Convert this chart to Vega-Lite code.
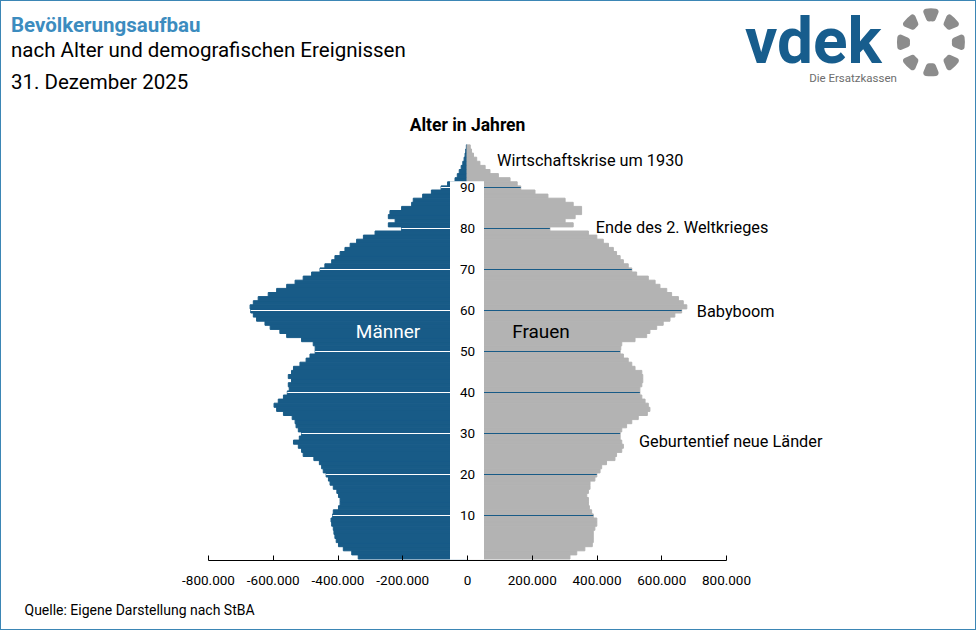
{
  "$schema": "https://vega.github.io/schema/vega-lite/v6.json",
  "width": 976,
  "height": 630,
  "autosize": {"type": "none"},
  "padding": 0,
  "background": "white",
  "title": {
    "text": "Bevölkerungsaufbau",
    "subtitle": ["nach Alter und demografischen Ereignissen", "31. Dezember 2025"],
    "anchor": "start",
    "frame": "group",
    "orient": "top",
    "offset": 0,
    "dx": 11,
    "dy": 93,
    "fontSize": 20.5,
    "fontWeight": "bold",
    "color": "#3c8cbf",
    "subtitleFontSize": 20.5,
    "subtitleColor": "#000000",
    "subtitleLineHeight": 32,
    "subtitlePadding": 4
  },
  "data": {
    "values": [
      {"age": 0, "m": -336000, "f": 318000},
      {"age": 1, "m": -356000, "f": 339000},
      {"age": 2, "m": -382000, "f": 364000},
      {"age": 3, "m": -397000, "f": 387000},
      {"age": 4, "m": -404000, "f": 390000},
      {"age": 5, "m": -408000, "f": 390000},
      {"age": 6, "m": -411000, "f": 390000},
      {"age": 7, "m": -413000, "f": 395000},
      {"age": 8, "m": -418000, "f": 401000},
      {"age": 9, "m": -420000, "f": 401000},
      {"age": 10, "m": -415000, "f": 390000},
      {"age": 11, "m": -413000, "f": 385000},
      {"age": 12, "m": -397000, "f": 378000},
      {"age": 13, "m": -392000, "f": 375000},
      {"age": 14, "m": -392000, "f": 375000},
      {"age": 15, "m": -397000, "f": 370000},
      {"age": 16, "m": -402000, "f": 375000},
      {"age": 17, "m": -413000, "f": 380000},
      {"age": 18, "m": -423000, "f": 380000},
      {"age": 19, "m": -428000, "f": 395000},
      {"age": 20, "m": -435000, "f": 401000},
      {"age": 21, "m": -444000, "f": 411000},
      {"age": 22, "m": -449000, "f": 416000},
      {"age": 23, "m": -456000, "f": 431000},
      {"age": 24, "m": -473000, "f": 457000},
      {"age": 25, "m": -506000, "f": 462000},
      {"age": 26, "m": -511000, "f": 478000},
      {"age": 27, "m": -521000, "f": 483000},
      {"age": 28, "m": -536000, "f": 478000},
      {"age": 29, "m": -518000, "f": 473000},
      {"age": 30, "m": -511000, "f": 473000},
      {"age": 31, "m": -521000, "f": 478000},
      {"age": 32, "m": -528000, "f": 493000},
      {"age": 33, "m": -531000, "f": 509000},
      {"age": 34, "m": -540000, "f": 529000},
      {"age": 35, "m": -567000, "f": 557000},
      {"age": 36, "m": -588000, "f": 565000},
      {"age": 37, "m": -596000, "f": 560000},
      {"age": 38, "m": -583000, "f": 550000},
      {"age": 39, "m": -567000, "f": 540000},
      {"age": 40, "m": -555000, "f": 534000},
      {"age": 41, "m": -549000, "f": 534000},
      {"age": 42, "m": -552000, "f": 540000},
      {"age": 43, "m": -542000, "f": 543000},
      {"age": 44, "m": -552000, "f": 543000},
      {"age": 45, "m": -542000, "f": 540000},
      {"age": 46, "m": -536000, "f": 519000},
      {"age": 47, "m": -516000, "f": 509000},
      {"age": 48, "m": -497000, "f": 498000},
      {"age": 49, "m": -485000, "f": 483000},
      {"age": 50, "m": -469000, "f": 473000},
      {"age": 51, "m": -469000, "f": 475000},
      {"age": 52, "m": -475000, "f": 478000},
      {"age": 53, "m": -511000, "f": 519000},
      {"age": 54, "m": -557000, "f": 555000},
      {"age": 55, "m": -578000, "f": 565000},
      {"age": 56, "m": -608000, "f": 586000},
      {"age": 57, "m": -624000, "f": 606000},
      {"age": 58, "m": -650000, "f": 627000},
      {"age": 59, "m": -660000, "f": 642000},
      {"age": 60, "m": -668000, "f": 663000},
      {"age": 61, "m": -670000, "f": 679000},
      {"age": 62, "m": -660000, "f": 668000},
      {"age": 63, "m": -645000, "f": 653000},
      {"age": 64, "m": -614000, "f": 632000},
      {"age": 65, "m": -588000, "f": 617000},
      {"age": 66, "m": -557000, "f": 596000},
      {"age": 67, "m": -531000, "f": 581000},
      {"age": 68, "m": -506000, "f": 560000},
      {"age": 69, "m": -480000, "f": 524000},
      {"age": 70, "m": -454000, "f": 509000},
      {"age": 71, "m": -439000, "f": 498000},
      {"age": 72, "m": -418000, "f": 483000},
      {"age": 73, "m": -408000, "f": 473000},
      {"age": 74, "m": -392000, "f": 462000},
      {"age": 75, "m": -377000, "f": 452000},
      {"age": 76, "m": -361000, "f": 437000},
      {"age": 77, "m": -341000, "f": 421000},
      {"age": 78, "m": -320000, "f": 401000},
      {"age": 79, "m": -284000, "f": 375000},
      {"age": 80, "m": -202000, "f": 256000},
      {"age": 81, "m": -243000, "f": 328000},
      {"age": 82, "m": -222000, "f": 303000},
      {"age": 83, "m": -243000, "f": 334000},
      {"age": 84, "m": -238000, "f": 354000},
      {"age": 85, "m": -202000, "f": 354000},
      {"age": 86, "m": -171000, "f": 328000},
      {"age": 87, "m": -166000, "f": 303000},
      {"age": 88, "m": -137000, "f": 250000},
      {"age": 89, "m": -110000, "f": 210000},
      {"age": 90, "m": -80000, "f": 166000},
      {"age": 91, "m": -60000, "f": 155000},
      {"age": 92, "m": -37000, "f": 133000},
      {"age": 93, "m": -30000, "f": 97000},
      {"age": 94, "m": -24000, "f": 71000},
      {"age": 95, "m": -18000, "f": 56000},
      {"age": 96, "m": -13000, "f": 40000},
      {"age": 97, "m": -9000, "f": 30000},
      {"age": 98, "m": -6000, "f": 20000},
      {"age": 99, "m": -4000, "f": 14000},
      {"age": 100, "m": -2000, "f": 10000}
    ]
  },
  "layer": [
    {
      "mark": {"type": "bar", "color": "#185b87", "stroke": "#185b87", "strokeWidth": 1, "opacity": 1, "binSpacing": 0},
      "encoding": {
        "x": {
          "field": "m",
          "type": "quantitative",
          "scale": {"domain": [-800000, 800000], "range": [208, 726], "nice": false, "zero": false},
          "axis": {
            "orient": "bottom",
            "offset": -70,
            "values": [-800000, -600000, -400000, -200000, 0, 200000, 400000, 600000, 800000],
            "format": ",d",
            "grid": false,
            "domainColor": "#000000",
            "tickColor": "#000000",
            "tickSize": -5,
            "labelPadding": 18,
            "labelFlush": false,
            "labelFontSize": 13.5,
            "labelColor": "#000000",
            "zindex": 1,
            "title": "Quelle: Eigene Darstellung nach StBA",
            "titleX": 24,
            "titleY": 50,
            "titleAlign": "left",
            "titleBaseline": "middle",
            "titleFontSize": 14,
            "titleFontWeight": "normal",
            "titleColor": "#000000"
          }
        },
        "y": {
          "field": "age",
          "type": "quantitative",
          "bin": {"step": 1, "extent": [0, 101]},
          "scale": {"domain": [0, 101], "range": [558.5, 144.4], "nice": false, "zero": false},
          "axis": {
            "orient": "left",
            "offset": -467,
            "values": [10, 20, 30, 40, 50, 60, 70, 80, 90],
            "grid": false,
            "domain": false,
            "ticks": false,
            "tickSize": 0,
            "labelPadding": 0,
            "labelAlign": "center",
            "labelBaseline": "middle",
            "labelOffset": -2,
            "labelFontSize": 13.5,
            "labelColor": "#000000",
            "zindex": 1,
            "title": "Alter in Jahren",
            "titleAngle": 0,
            "titleX": 0,
            "titleY": 125,
            "titleAlign": "center",
            "titleBaseline": "middle",
            "titleFontSize": 17.5,
            "titleFontWeight": "bold",
            "titleColor": "#000000"
          }
        }
      }
    },
    {
      "mark": {"type": "bar", "color": "#b3b3b3", "stroke": "#b3b3b3", "strokeWidth": 1, "opacity": 1, "binSpacing": 0},
      "encoding": {
        "x": {"field": "f", "type": "quantitative"},
        "y": {"field": "age", "type": "quantitative", "bin": {"step": 1, "extent": [0, 101]}}
      }
    },
    {
      "transform": [{"filter": {"field": "age", "oneOf": [10, 20, 30, 40, 50, 60, 70, 80, 90]}}],
      "mark": {"type": "rule", "color": "#ffffff", "strokeWidth": 1, "yOffset": -2},
      "encoding": {
        "x": {"field": "m", "type": "quantitative"},
        "x2": {"datum": 0},
        "y": {"field": "age", "type": "quantitative"}
      }
    },
    {
      "transform": [{"filter": {"field": "age", "oneOf": [10, 20, 30, 40, 50, 60, 70, 80, 90]}}],
      "mark": {"type": "rule", "color": "#185b87", "strokeWidth": 1, "yOffset": -2},
      "encoding": {
        "x": {"field": "f", "type": "quantitative"},
        "x2": {"datum": 0},
        "y": {"field": "age", "type": "quantitative"}
      }
    },
    {
      "data": {"values": [{"band": "Alter"}]},
      "mark": {"type": "rect", "color": "#ffffff"},
      "encoding": {
        "x": {"datum": -52500},
        "x2": {"datum": 52500},
        "y": {"datum": -0.3},
        "y2": {"datum": 92}
      }
    },
    {
      "data": {"values": [{"t": "Männer"}]},
      "mark": {"type": "text", "align": "center", "baseline": "middle", "fontSize": 19, "color": "#ffffff"},
      "encoding": {"x": {"datum": -244000}, "y": {"datum": 55.2}, "text": {"field": "t"}}
    },
    {
      "data": {"values": [{"t": "Frauen"}]},
      "mark": {"type": "text", "align": "center", "baseline": "middle", "fontSize": 19, "color": "#000000"},
      "encoding": {"x": {"datum": 228600}, "y": {"datum": 55.2}, "text": {"field": "t"}}
    },
    {
      "data": {"values": [{"t": "Wirtschaftskrise um 1930"}]},
      "mark": {"type": "text", "align": "left", "baseline": "middle", "fontSize": 16.3, "color": "#000000"},
      "encoding": {"x": {"datum": 92600}, "y": {"datum": 96.95}, "text": {"field": "t"}}
    },
    {
      "data": {"values": [{"t": "Ende des 2. Weltkrieges"}]},
      "mark": {"type": "text", "align": "left", "baseline": "middle", "fontSize": 16.3, "color": "#000000"},
      "encoding": {"x": {"datum": 398000}, "y": {"datum": 80.6}, "text": {"field": "t"}}
    },
    {
      "data": {"values": [{"t": "Babyboom"}]},
      "mark": {"type": "text", "align": "left", "baseline": "middle", "fontSize": 16.3, "color": "#000000"},
      "encoding": {"x": {"datum": 710000}, "y": {"datum": 60.1}, "text": {"field": "t"}}
    },
    {
      "data": {"values": [{"t": "Geburtentief neue Länder"}]},
      "mark": {"type": "text", "align": "left", "baseline": "middle", "fontSize": 16.3, "color": "#000000"},
      "encoding": {"x": {"datum": 531000}, "y": {"datum": 28.4}, "text": {"field": "t"}}
    },
    {
      "data": {"values": [{"t": "vdek"}]},
      "mark": {"type": "text", "align": "left", "baseline": "alphabetic", "fontSize": 64, "fontWeight": "bold", "color": "#175d8d"},
      "encoding": {"x": {"datum": 858700}, "y": {"datum": 120.78}, "text": {"field": "t"}}
    },
    {
      "data": {"values": [{"t": "Die Ersatzkassen"}]},
      "mark": {"type": "text", "align": "right", "baseline": "alphabetic", "fontSize": 11.5, "color": "#6d6d6d"},
      "encoding": {"x": {"datum": 1328000}, "y": {"datum": 116.3}, "text": {"field": "t"}}
    },
    {
      "data": {"values": [{"s": "a"}, {"s": "b"}, {"s": "c"}, {"s": "d"}, {"s": "e"}, {"s": "f"}, {"s": "g"}, {"s": "h"}]},
      "mark": {"type": "arc", "color": "#8c8c8c", "radius": 34, "radius2": 21, "padAngle": 0.22, "cornerRadius": 3, "thetaOffset": -0.3927, "theta2Offset": -0.3927},
      "encoding": {
        "theta": {"aggregate": "count", "type": "quantitative"},
        "detail": {"field": "s"},
        "x": {"datum": 1433000},
        "y": {"datum": 125.9}
      }
    }
  ],
  "config": {
    "font": "Roboto",
    "view": {"stroke": "#3b86b5", "strokeWidth": 2},
    "locale": {
      "number": {"decimal": ",", "thousands": ".", "grouping": [3], "currency": ["", " €"], "minus": "-"}
    }
  }
}
